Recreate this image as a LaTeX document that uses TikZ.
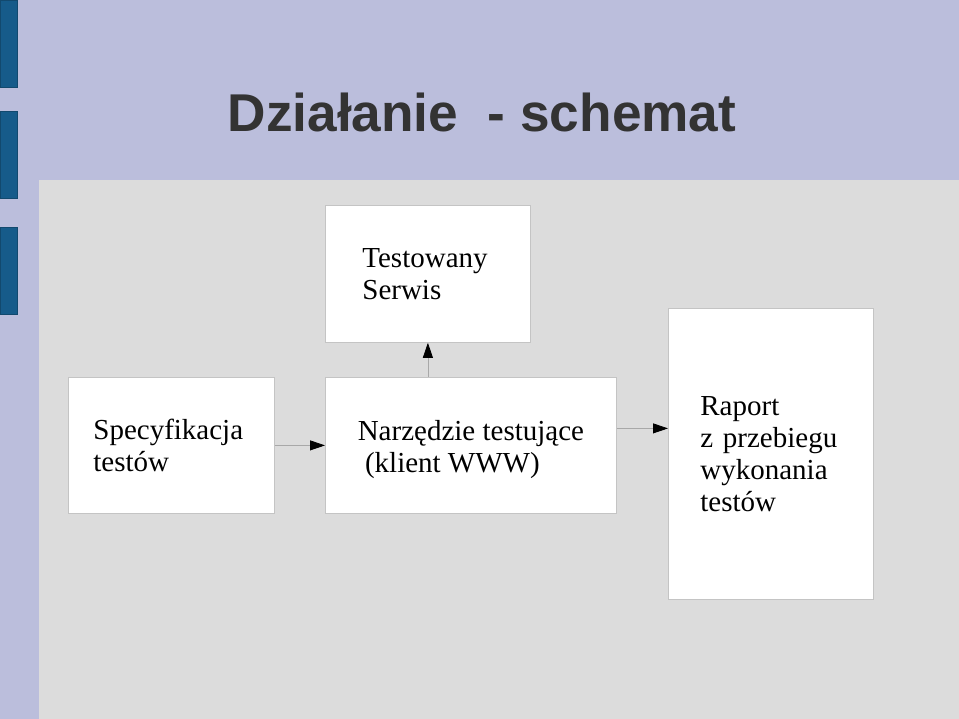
\documentclass[tikz,border=0pt]{standalone}
\usepackage{fontspec}
\setmainfont{Liberation Serif}
\newfontfamily\titlefont{Liberation Sans}
\usetikzlibrary{arrows.meta}

\definecolor{slidebg}{HTML}{BBBEDC}
\definecolor{panelbg}{HTML}{DCDCDC}
\definecolor{barblue}{HTML}{165B8A}
\definecolor{boxline}{HTML}{C4C4C4}
\definecolor{arrowline}{HTML}{A8A8A8}
\definecolor{titlegray}{HTML}{333333}

\tikzset{
	schemebox/.style={draw=boxline, line width=0.8pt, fill=white, anchor=north west, align=left, inner sep=0pt, font=\fontsize{29}{32}\selectfont},
	flow/.style={draw=arrowline, line width=0.8pt, -{Triangle[length=15pt, width=10pt, color=black]}}
}

\begin{document}
\begin{tikzpicture}[x=1pt, y=-1pt]
	\useasboundingbox (0,0) rectangle (959,719);
	\fill [slidebg] (0,0) rectangle (959,719);
	\fill [panelbg] (39,180) rectangle (959,719);
	\foreach \top/\bottom in {0/87, 111/198, 227/314}{%
		\path [fill=barblue, draw=barblue!80!black, line width=0.5pt] (0,\top) rectangle (17,\bottom);
	}
	\node [anchor=base, font=\titlefont\bfseries\fontsize{53.2}{60}\selectfont, text=titlegray] (title) at (482,132) {Działanie\ \ - schemat};

	\node [schemebox, minimum width=205, minimum height=137, text width=131] (serwis) at (325,205) {Testowany\\Serwis};
	\node [schemebox, minimum width=206, minimum height=136, text width=156] (spec) at (68,377) {Specyfikacja\\testów};
	\node [schemebox, minimum width=291, minimum height=136] (narzedzie) at (325,377) {\rule{0pt}{28pt}Narzędzie testujące\\\hspace*{0.25em}(klient WWW)};
	\node [schemebox, minimum width=205, minimum height=291, text width=141] (raport) at (668,308) {Raport\\z przebiegu\\wykonania\\testów};

	\coordinate (wyjscie) at ([yshift=17pt] narzedzie.east);
	\draw [flow] (spec) -- (narzedzie);
	\draw [flow] (narzedzie.north -| serwis.south) -- (serwis.south);
	\draw [flow] (wyjscie) -- (wyjscie -| raport.west);
\end{tikzpicture}
\end{document}
